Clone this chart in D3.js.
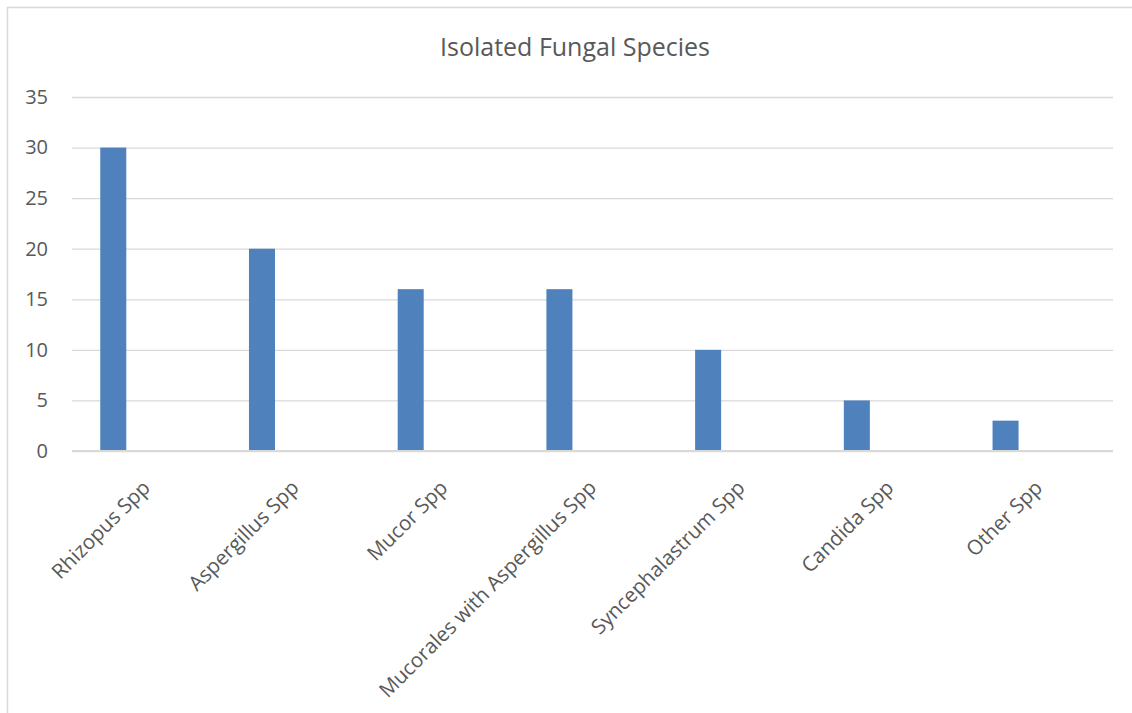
<!DOCTYPE html>
<html>
<head>
<meta charset="utf-8">
<script src="https://cdn.jsdelivr.net/npm/d3@7"></script>
<style>
  body { margin: 0; background: #fff; }
  svg text { font-family: "Open Sans", sans-serif; fill: #595959; }
</style>
</head>
<body>
<div id="chart"></div>
<script>
// data //
const categories = ["Rhizopus Spp", "Aspergillus Spp", "Mucor Spp", "Mucorales with Aspergillus Spp",
  "Syncephalastrum Spp", "Candida Spp", "Other Spp"];
const counts = [30, 20, 16, 16, 10, 5, 3];
const yTicks = [0, 5, 10, 15, 20, 25, 30, 35];

const W = 1132, H = 713;
const plot = { left: 72, right: 1113, top: 97, bottom: 451 };

const svg = d3.select("#chart").append("svg")
  .attr("width", W)
  .attr("height", H);

// outer chart frame (runs off the right and bottom edge)
svg.append("rect")
  .attr("x", 7.5).attr("y", 7.5)
  .attr("width", W + 20).attr("height", H + 20)
  .attr("fill", "none")
  .attr("stroke", "#d9d9d9")
  .attr("stroke-width", 1.5);

// title
svg.append("text")
  .attr("x", 575)
  .attr("y", 56)
  .attr("text-anchor", "middle")
  .style("font-size", "25px")
  .text("Isolated Fungal Species");

const x = d3.scaleBand()
  .domain(categories)
  .range([plot.left, plot.right])
  .padding(0);

const y = d3.scaleLinear()
  .domain([0, 35])
  .range([plot.bottom, plot.top]);

// gridlines + y labels
const yAxis = svg.append("g")
  .attr("transform", `translate(${plot.left},0)`)
  .call(d3.axisLeft(y).tickValues(yTicks).tickSize(-(plot.right - plot.left)).tickPadding(24));
yAxis.select(".domain").remove();
yAxis.selectAll(".tick line").attr("stroke", "#d9d9d9").attr("stroke-width", 1.3);
yAxis.selectAll(".tick text").style("font-size", "20px").attr("fill", "#595959");

// bars sit in the left part of each category slot
svg.append("g").selectAll("rect")
  .data(counts)
  .join("rect")
  .attr("x", (d, i) => x(categories[i]) + x.bandwidth() * 0.19)
  .attr("width", x.bandwidth() * 0.175)
  .attr("y", d => y(d))
  .attr("height", d => y(0) - y(d))
  .attr("fill", "#4f81bd");

// baseline
svg.append("line")
  .attr("x1", plot.left).attr("x2", plot.right)
  .attr("y1", y(0)).attr("y2", y(0))
  .attr("stroke", "#d9d9d9")
  .attr("stroke-width", 2);

// rotated category labels
svg.append("g").selectAll("text")
  .data(categories)
  .join("text")
  .attr("text-anchor", "end")
  .attr("transform", d => `translate(${x(d) + x.bandwidth() / 2 + 5},${plot.bottom + 38}) rotate(-45)`)
  .style("font-size", "20.5px")
  .text(d => d);
</script>
</body>
</html>
